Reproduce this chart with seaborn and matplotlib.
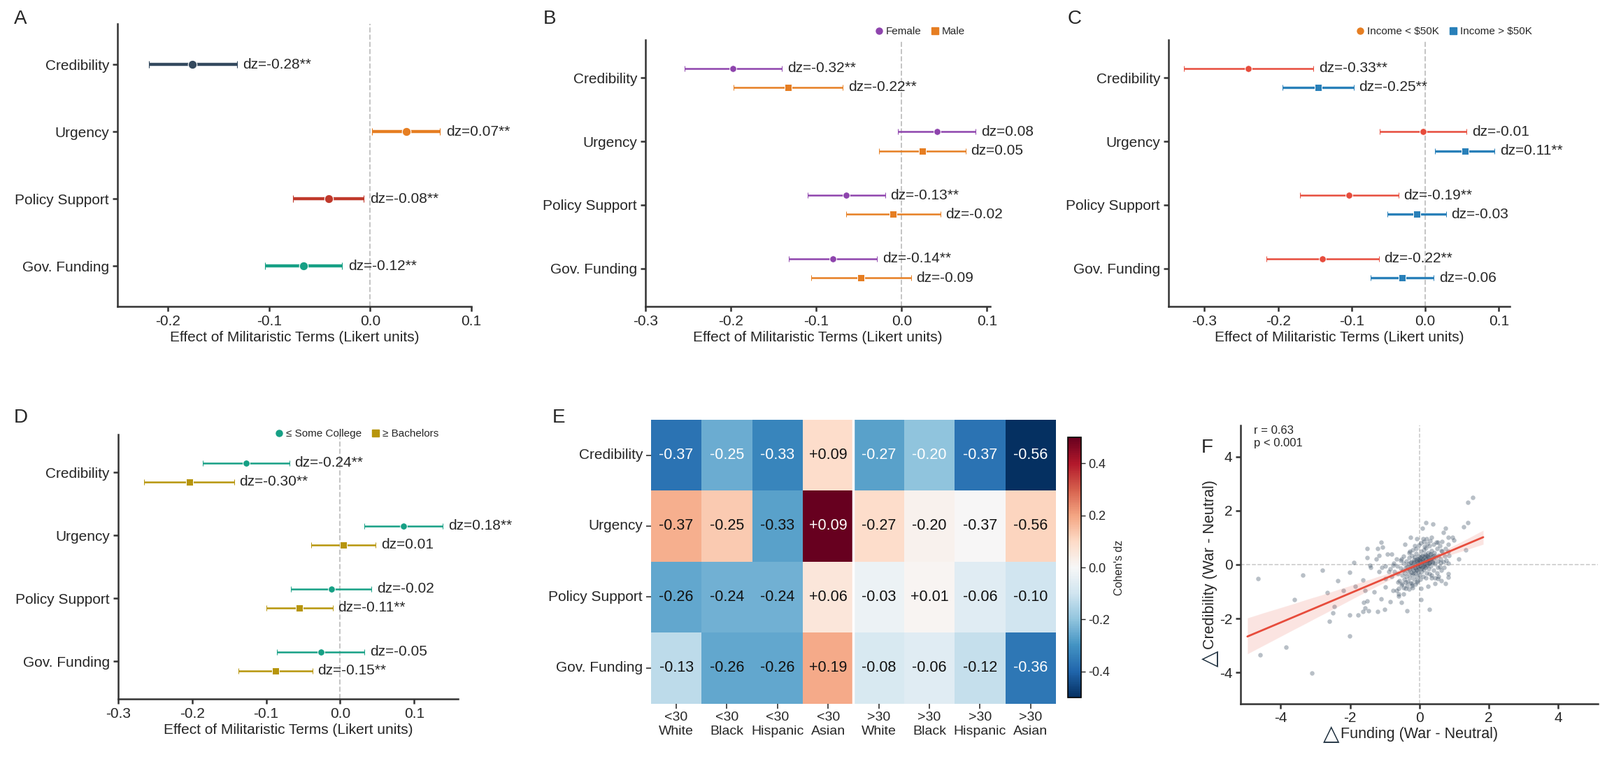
import numpy as np
import pandas as pd
import seaborn as sns
import matplotlib.pyplot as plt
from matplotlib.lines import Line2D

sns.set_style('ticks')
FONT = ['Liberation Sans', 'DejaVu Sans']
plt.rcParams['font.family'] = FONT
plt.rcParams['axes.unicode_minus'] = False
plt.rcParams['axes.edgecolor'] = '#333333'
plt.rcParams['axes.linewidth'] = 1.8

outcomes = ['Credibility', 'Urgency', 'Policy Support', 'Gov. Funding']

# panel A: overall effect
a_est = [-0.176, 0.0355, -0.0414, -0.066]
a_lo = [-0.219, 0.002, -0.0762, -0.1043]
a_hi = [-0.132, 0.0688, -0.0068, -0.0278]
a_lab = ['dz=-0.28**', 'dz=0.07**', 'dz=-0.08**', 'dz=-0.12**']
a_colors = ['#34495e', '#e67e22', '#c0392b', '#16a085']

# panel B: gender
fem_est = [-0.1974, 0.0412, -0.0646, -0.0807]
fem_lo = [-0.254, -0.004, -0.1099, -0.1318]
fem_hi = [-0.140, 0.0869, -0.0193, -0.0288]
fem_lab = ['dz=-0.32**', 'dz=0.08', 'dz=-0.13**', 'dz=-0.14**']
male_est = [-0.1328, 0.0241, -0.0099, -0.0478]
male_lo = [-0.1967, -0.0266, -0.0653, -0.1062]
male_hi = [-0.069, 0.0748, 0.0453, 0.0109]
male_lab = ['dz=-0.22**', 'dz=0.05', 'dz=-0.02', 'dz=-0.09']

# panel C: income
low_est = [-0.2405, -0.0033, -0.1033, -0.1395]
low_lo = [-0.328, -0.0623, -0.1707, -0.2158]
low_hi = [-0.152, 0.0563, -0.0363, -0.0633]
low_lab = ['dz=-0.33**', 'dz=-0.01', 'dz=-0.19**', 'dz=-0.22**']
high_est = [-0.1456, 0.054, -0.0116, -0.0312]
high_lo = [-0.194, 0.0135, -0.0516, -0.0744]
high_hi = [-0.0972, 0.094, 0.0279, 0.0116]
high_lab = ['dz=-0.25**', 'dz=0.11**', 'dz=-0.03', 'dz=-0.06']

# panel D: education
col_est = [-0.1274, 0.0857, -0.0122, -0.0262]
col_lo = [-0.1857, 0.0329, -0.0667, -0.0852]
col_hi = [-0.0688, 0.1384, 0.0422, 0.0329]
col_lab = ['dz=-0.24**', 'dz=0.18**', 'dz=-0.02', 'dz=-0.05']
bach_est = [-0.2038, 0.0042, -0.0549, -0.0878]
bach_lo = [-0.2646, -0.0388, -0.0996, -0.1376]
bach_hi = [-0.1435, 0.0477, -0.0101, -0.0376]
bach_lab = ['dz=-0.30**', 'dz=0.01', 'dz=-0.11**', 'dz=-0.15**']

# panel E: age x race heatmap
heat_cols = ['<30\nWhite', '<30\nBlack', '<30\nHispanic', '<30\nAsian',
             '>30\nWhite', '>30\nBlack', '>30\nHispanic', '>30\nAsian']
cred_dz = [-0.37, -0.25, -0.33, 0.09, -0.27, -0.20, -0.37, -0.56]
urg_dz = [0.18, 0.13, -0.27, 0.55, 0.09, 0.02, 0.0, 0.11]
pol_dz = [-0.26, -0.24, -0.24, 0.06, -0.03, 0.01, -0.06, -0.10]
gov_dz = [-0.13, -0.26, -0.26, 0.19, -0.08, -0.06, -0.12, -0.36]
urg_printed = cred_dz  # the figure prints the credibility numbers in the urgency row
white_text = [(0, 0), (0, 1), (0, 2), (0, 4), (0, 5), (0, 6), (0, 7), (1, 3), (3, 7)]

# panel F: individual differences (funding, credibility)
scatter_outer = [
    (-4.65, -0.51), (-4.60, -3.35), (-3.85, -3.05), (-3.10, -4.01), (-3.60, -1.30),
    (-3.36, -0.40), (-2.80, -0.21), (-2.65, -1.05), (-2.60, -2.10), (-2.50, -1.79),
    (-2.45, -1.55), (-2.36, -0.60), (-2.20, -0.96), (-2.01, -0.29), (-2.01, -1.86),
    (-2.01, -2.65), (-1.90, 0.09), (-1.86, -0.80), (-1.76, -1.86), (-1.62, -1.75),
    (-1.56, -1.61), (-1.50, -1.36), (-1.60, -1.41), (-1.62, -0.56), (-1.56, -0.96),
    (-1.50, 0.59), (-1.50, 0.25), (-1.46, -1.70), (-1.42, -0.02), (-1.41, -0.11),
    (-1.30, -1.02), (-1.25, 0.21), (-1.21, 0.59), (-1.21, -1.75), (-1.17, 0.34),
    (-1.17, -0.27), (-1.11, 0.83), (-1.06, 0.65), (-1.11, -1.27), (-1.01, -1.65),
    (-0.99, -0.51), (-0.99, -0.83), (-0.92, 0.39), (-0.84, -1.38), (-0.81, 0.39),
    (-0.76, -0.97), (-0.67, -0.96), (-0.60, -1.17), (-0.51, -1.41), (-0.35, -1.70),
    (-0.26, 1.00), (0.05, -1.30), (0.19, 1.55), (0.39, 1.50), (0.09, 1.35),
    (0.28, -1.65), (0.74, 1.35), (0.69, 1.19), (0.83, 1.00), (0.95, 1.00),
    (0.99, 0.90), (1.13, 0.21), (1.28, 1.40), (1.39, 1.55), (1.39, 2.30),
    (1.53, 2.49), (1.34, 0.55), (0.83, 0.74), (0.83, 0.48), (0.83, 0.04),
    (0.83, -0.35), (0.83, -0.47), (0.74, -0.71), (0.63, -0.60), (0.53, -0.51),
    (0.44, -0.69), (0.25, -0.80), (0.04, -0.87), (0.34, -0.49), (0.60, 0.07),
    (0.53, -0.11), (0.42, 0.34), (0.63, 0.52), (0.53, 0.83), (0.35, 1.01),
    (0.21, 0.97), (0.11, 0.97), (-0.07, 0.97), (-0.14, 0.70), (-0.28, 0.48),
    (-0.42, 0.74), (-0.53, 0.21), (-0.67, 0.21), (-0.77, -0.02), (-0.88, -0.27),
    (-0.99, -0.06), (-1.09, -0.11), (-0.63, -0.65), (-0.49, -0.69), (-0.60, -0.87),
    (-0.39, -0.87), (-0.21, -0.78), (-0.07, -0.65), (-0.46, -1.09), (-0.60, -1.09),
]
scatter_core = [
    (-0.62, -0.35), (-0.55, -0.12), (-0.50, -0.40), (-0.48, -0.22), (-0.45, 0.05),
    (-0.44, -0.55), (-0.42, -0.30), (-0.40, -0.10), (-0.38, 0.12), (-0.37, -0.45),
    (-0.35, -0.20), (-0.33, -0.62), (-0.32, 0.02), (-0.30, -0.33), (-0.29, 0.25),
    (-0.28, -0.15), (-0.27, -0.50), (-0.25, -0.05), (-0.24, 0.10), (-0.23, -0.28),
    (-0.22, -0.70), (-0.21, 0.35), (-0.20, -0.12), (-0.19, -0.40), (-0.18, 0.05),
    (-0.17, -0.22), (-0.16, 0.18), (-0.15, -0.55), (-0.14, -0.08), (-0.13, 0.28),
    (-0.12, -0.32), (-0.11, 0.00), (-0.10, -0.18), (-0.09, 0.42), (-0.08, -0.45),
    (-0.07, 0.12), (-0.06, -0.05), (-0.05, 0.22), (-0.04, -0.28), (-0.03, 0.05),
    (-0.02, -0.12), (-0.01, 0.32), (0.00, -0.02), (0.00, 0.15), (0.01, -0.38),
    (0.02, 0.08), (0.03, 0.25), (0.04, -0.15), (0.05, 0.48), (0.06, 0.02),
    (0.07, -0.25), (0.08, 0.18), (0.09, 0.35), (0.10, -0.05), (0.11, 0.12),
    (0.12, 0.55), (0.13, -0.18), (0.14, 0.28), (0.15, 0.05), (0.16, 0.40),
    (0.17, -0.10), (0.18, 0.20), (0.19, 0.62), (0.20, 0.10), (0.21, -0.30),
    (0.22, 0.32), (0.23, 0.00), (0.24, 0.45), (0.25, 0.15), (0.26, -0.15),
    (0.27, 0.25), (0.28, 0.70), (0.29, 0.05), (0.30, 0.38), (0.32, -0.05),
    (0.33, 0.22), (0.35, 0.52), (0.36, 0.10), (0.38, 0.30), (0.40, -0.20),
    (0.41, 0.18), (0.43, 0.45), (0.45, 0.02), (0.47, 0.28), (0.50, 0.60),
    (0.52, 0.12), (0.55, 0.35), (0.58, -0.08), (0.60, 0.22), (0.65, 0.48),
    (0.68, 0.10), (0.72, 0.32),
    (-0.35, -0.08), (-0.30, -0.18), (-0.26, 0.08), (-0.22, -0.05), (-0.18, -0.30),
    (-0.15, 0.10), (-0.12, -0.12), (-0.10, 0.18), (-0.08, -0.22), (-0.05, 0.05),
    (-0.03, -0.08), (-0.02, 0.20), (0.02, -0.05), (0.04, 0.12), (0.06, 0.30),
    (0.08, -0.10), (0.10, 0.22), (0.12, 0.05), (0.14, -0.02), (0.16, 0.15),
    (0.18, 0.35), (0.20, -0.05), (0.22, 0.12), (0.24, 0.28), (0.26, 0.05),
    (0.28, 0.18), (0.30, 0.10), (0.33, 0.40), (0.36, 0.25), (0.39, 0.08),
    (-0.58, -0.60), (-0.52, -0.75), (-0.46, -0.85), (-0.40, -0.65), (-0.36, -0.78),
    (-0.30, -0.90), (-0.26, -0.68), (-0.20, -0.85), (-0.12, -0.72), (-0.05, -0.60),
    (0.02, -0.55), (0.10, -0.45), (0.18, -0.50),
    (-0.10, 0.60), (-0.02, 0.72), (0.05, 0.80), (0.12, 0.85), (0.22, 0.78),
    (0.30, 0.88), (0.40, 0.75), (0.48, 0.82), (0.58, 0.70), (0.15, 0.68),
    (-0.20, 0.55), (-0.30, 0.45), (-0.45, 0.30), (-0.55, 0.15), (-0.65, -0.05),
    (-0.72, -0.25), (-0.80, -0.45), (-0.85, -0.15), (-0.75, 0.05),
    (0.50, -0.30), (0.55, -0.45), (0.62, -0.20), (0.70, -0.10), (0.78, 0.15),
    (0.85, 0.35), (0.75, 0.60), (0.65, 0.85), (0.45, -0.50), (0.35, -0.40),
    (0.28, -0.35),
]

W, H = 2288, 1082
fig = plt.figure(figsize=(W / 100, H / 100), dpi=100)


def px_axes(l, t, r, b):
    return fig.add_axes([l / W, 1 - b / H, (r - l) / W, (b - t) / H])


def style_forest(ax, xlim, xticks):
    y = np.arange(len(outcomes))
    ax.axvline(0, color='#c4c4c4', ls='--', lw=1.4, zorder=0)
    ax.set_yticks(y, outcomes)
    ax.set_ylim(3.6, -0.6)
    ax.set_xlim(*xlim)
    ax.set_xticks(xticks, [f'{t:.1f}' for t in xticks])
    ax.set_xlabel('Effect of Militaristic Terms (Likert units)', fontsize=15, labelpad=3)
    ax.tick_params(labelsize=15, width=1.8, length=5, color='#333333')
    sns.despine(ax=ax)


def draw_group(ax, est, lo, hi, labels, color, marker, offset, lw=1.8, ms=7):
    est, lo, hi = np.array(est), np.array(lo), np.array(hi)
    y = np.arange(len(est)) + offset
    ax.errorbar(est, y, xerr=[est - lo, hi - est], fmt=marker, color=color,
                ecolor=color, elinewidth=lw, capsize=3, capthick=1.2,
                ms=ms, mec='white', mew=0.7, zorder=3)
    for h, yy, lab in zip(hi, y, labels):
        ax.annotate(lab, (h, yy), xytext=(5.5, 0), textcoords='offset points',
                    va='center', ha='left', fontsize=15, annotation_clip=False)


def legend_top(ax, items, anchor):
    handles = [Line2D([], [], ls='none', marker=m, color=c, ms=6.5, label=l)
               for l, c, m in items]
    ax.legend(handles=handles, loc='center right', bbox_to_anchor=anchor, ncol=2,
              frameon=False, fontsize=11, handletextpad=0.15, columnspacing=0.8,
              borderaxespad=0, borderpad=0, handlelength=1.0)


# ---- A
axA = px_axes(167.9, 34.4, 674.1, 438)
for i in range(4):
    axA.errorbar([a_est[i]], [i], xerr=[[a_est[i] - a_lo[i]], [a_hi[i] - a_est[i]]],
                 fmt='o', color=a_colors[i], elinewidth=3.2, capsize=3.5, capthick=1.0,
                 ms=9, mec='white', mew=0.8, zorder=3)
    axA.annotate(a_lab[i], (a_hi[i], i), xytext=(6.5, 0), textcoords='offset points',
                 va='center', fontsize=15, annotation_clip=False)
style_forest(axA, (-0.25, 0.1), [-0.2, -0.1, 0.0, 0.1])

# ---- B
axB = px_axes(922.9, 56.8, 1416.3, 438)
draw_group(axB, fem_est, fem_lo, fem_hi, fem_lab, '#8e44ad', 'o', -0.15)
draw_group(axB, male_est, male_lo, male_hi, male_lab, '#e67e22', 's', 0.15)
style_forest(axB, (-0.3, 0.104), [-0.3, -0.2, -0.1, 0.0, 0.1])
legend_top(axB, [('Female', '#8e44ad', 'o'), ('Male', '#e67e22', 's')], (0.927, 1.031))

# ---- C
axC = px_axes(1670.9, 56.8, 2159.2, 438)
draw_group(axC, low_est, low_lo, low_hi, low_lab, '#e74c3c', 'o', -0.15)
draw_group(axC, high_est, high_lo, high_hi, high_lab, '#2980b9', 's', 0.15, lw=2.4)
style_forest(axC, (-0.349, 0.115), [-0.3, -0.2, -0.1, 0.0, 0.1])
legend_top(axC, [('Income < $50K', '#e67e22', 'o'), ('Income > $50K', '#2980b9', 's')],
           (1.065, 1.031))

# ---- D
axD = px_axes(168.75, 621.2, 654.9, 999)
draw_group(axD, col_est, col_lo, col_hi, col_lab, '#16a085', 'o', -0.15)
draw_group(axD, bach_est, bach_lo, bach_hi, bach_lab, '#b7950b', 's', 0.15)
style_forest(axD, (-0.3, 0.159), [-0.3, -0.2, -0.1, 0.0, 0.1])
legend_top(axD, [('≤ Some College', '#16a085', 'o'), ('≥ Bachelors', '#b7950b', 's')],
           (0.943, 1.003))

# ---- E
axE = px_axes(930.9, 599.8, 1510, 1005.6)
cax = px_axes(1527, 625, 1546, 997)
heat = pd.DataFrame([cred_dz, urg_dz, pol_dz, gov_dz], index=outcomes, columns=heat_cols)
printed = [cred_dz, urg_printed, pol_dz, gov_dz]
annot = np.array([[f'{v:+.2f}' for v in row] for row in printed])
sns.heatmap(heat, ax=axE, cbar_ax=cax, cmap='RdBu_r', vmin=-0.5, vmax=0.5,
            annot=annot, fmt='', annot_kws={'size': 15.5})
for k, txt in enumerate(axE.texts):
    r, c = divmod(k, len(heat_cols))
    txt.set_color('white' if (r, c) in white_text else '#111111')
axE.axvline(4, color='white', lw=2.5)
axE.set_yticklabels(outcomes, rotation=0, fontsize=15)
axE.set_xticklabels(heat_cols, rotation=0, fontsize=14)
axE.tick_params(length=5, width=1.2, color='#333333')
cbar = axE.collections[0].colorbar
cbar.outline.set_edgecolor('black')
cbar.outline.set_linewidth(1.2)
cax.set_yticks([-0.4, -0.2, 0.0, 0.2, 0.4], ['-0.4', '-0.2', '0.0', '0.2', '0.4'], fontsize=13)
cax.tick_params(length=4, width=1)
cax.set_ylabel("Cohen's dz", fontsize=11.5, labelpad=4)

# ---- F
axF = px_axes(1774.3, 608.4, 2285.3, 1005.6)
pts = pd.DataFrame(scatter_outer + scatter_core, columns=['funding', 'credibility'])
axF.axhline(0, color='#c8c8c8', ls='--', lw=1.1, zorder=0)
axF.axvline(0, color='#c8c8c8', ls='--', lw=1.1, zorder=0)
sns.scatterplot(data=pts, x='funding', y='credibility', ax=axF, color='#34495e',
                alpha=0.35, s=22, linewidth=0)
sns.regplot(data=pts, x='funding', y='credibility', ax=axF, scatter=False,
            color='#e74c3c', line_kws={'lw': 2.0}, seed=0, truncate=False)
axF.set_xlim(-5.15, 5.15)
axF.set_ylim(-5.15, 5.15)
ticks = [-4, -2, 0, 2, 4]
axF.set_xticks(ticks, [str(t) for t in ticks])
axF.set_yticks(ticks, [str(t) for t in ticks])
axF.tick_params(labelsize=15, width=1.8, length=5, color='#333333')
xl = axF.set_xlabel('Funding (War - Neutral)', fontsize=15.5, labelpad=2)
yl = axF.set_ylabel('Credibility (War - Neutral)', fontsize=15.5, labelpad=2)
# the delta sign is drawn larger than the label text
axF.annotate('△', xy=(0, 0), xycoords=xl, xytext=(-1, -3), textcoords='offset points',
             ha='right', va='bottom', fontsize=22, color='#1c2e3d')
axF.annotate('△', xy=(1, 0), xycoords=yl, xytext=(3, -1), textcoords='offset points',
             ha='right', va='top', fontsize=22, rotation=90, color='#1c2e3d')
axF.text(0.036, 1.0, 'r = 0.63\np < 0.001', transform=axF.transAxes, va='top',
         ha='left', fontsize=12, linespacing=1.25)
sns.despine(ax=axF)

# panel letters
for letter, x, y in [('A', 20, 27.5), ('B', 777, 27.5), ('C', 1527, 27.5),
                     ('D', 20, 597), ('E', 790, 597), ('F', 1718, 640)]:
    fig.text(x / W, 1 - y / H, letter, fontsize=20, va='center', ha='left')

fig.savefig('out.png', dpi=100)
